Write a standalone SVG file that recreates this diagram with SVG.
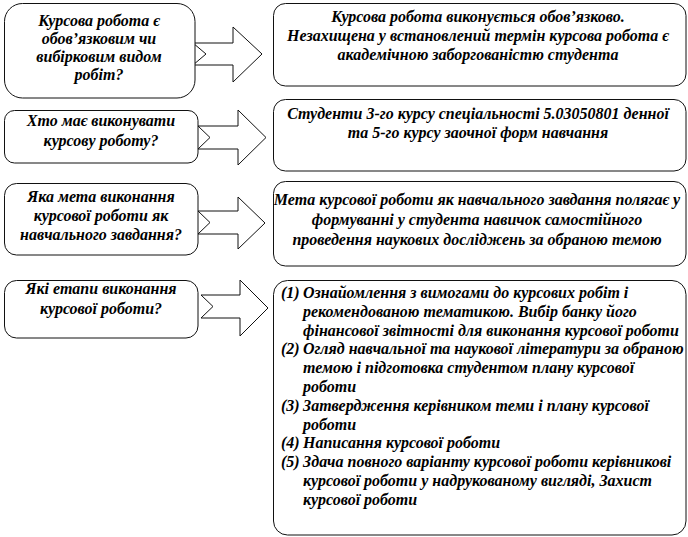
<svg xmlns="http://www.w3.org/2000/svg" width="688" height="537" viewBox="0 0 688 537">
<style>
.box{fill:#fff;stroke:#111;stroke-width:1}
.arr{fill:#fff;stroke:#111;stroke-width:1;stroke-linejoin:miter}
.c{text-anchor:middle}
</style>
<rect width="688" height="537" fill="#fff"/>
<g id="connectors">
<polygon class="arr" points="193,43 233,43 233,27 262,54 233,82 233,65 193,65 206,54"/>
<polygon class="arr" points="198,126 238,126 238,110 266,137.5 238,165 238,149 198,149 210,137.5"/>
<polygon class="arr" points="198,211 238,211 238,197 265,223 238,249 238,234 198,234 210,222.5"/>
<polygon class="arr" points="201,295 240,295 240,280 268,308 240,336 240,318 201,318 213,306.5"/>
</g>
<g font-size="16" font-weight="bold" font-style="italic" fill="#000">
<g id="q1">
<rect class="box" x="4.5" y="3.5" width="190.5" height="94.5" rx="18"/>
<text font-family="Liberation Serif" class="c" x="99" y="26">Курсова робота є</text>
<text font-family="Liberation Serif" class="c" x="99" y="44">обов’язковим чи</text>
<text font-family="Liberation Serif" class="c" x="99" y="62">вибірковим видом</text>
<text font-family="Liberation Serif" class="c" x="99" y="80">робіт?</text>
</g>
<g id="a1">
<rect class="box" x="273.5" y="3.5" width="412.5" height="82.5" rx="12"/>
<text font-family="Liberation Serif" class="c" x="478" y="22">Курсова робота виконується обов’язково.</text>
<text font-family="Liberation Serif" class="c" x="478" y="41">Незахищена у встановлений термін курсова робота є</text>
<text font-family="Liberation Serif" class="c" x="478" y="60">академічною заборгованістю студента</text>
</g>
<g id="q2">
<rect class="box" x="4.5" y="110.5" width="193.5" height="52.5" rx="10"/>
<text font-family="Liberation Serif" class="c" x="101" y="126">Хто має виконувати</text>
<text font-family="Liberation Serif" class="c" x="101" y="146">курсову роботу?</text>
</g>
<g id="a2">
<rect class="box" x="273.5" y="99.5" width="412.5" height="71.5" rx="12"/>
<text font-family="Liberation Serif" class="c" x="478" y="119">Студенти 3-го курсу  спеціальності 5.03050801 денної</text>
<text font-family="Liberation Serif" class="c" x="478" y="138">та 5-го курсу  заочної форм навчання</text>
</g>
<g id="q3">
<rect class="box" x="4.5" y="183.5" width="193.5" height="71.5" rx="12"/>
<text font-family="Liberation Serif" class="c" x="101" y="202">Яка мета виконання</text>
<text font-family="Liberation Serif" class="c" x="101" y="221">курсової роботи як</text>
<text font-family="Liberation Serif" class="c" x="101" y="240">навчального завдання?</text>
</g>
<g id="a3">
<rect class="box" x="273.5" y="181.5" width="412.5" height="84.5" rx="12"/>
<text font-family="Liberation Serif" class="c" x="477" y="205">Мета курсової роботи як навчального завдання полягає у</text>
<text font-family="Liberation Serif" class="c" x="477" y="225">формуванні у студента навичок самостійного</text>
<text font-family="Liberation Serif" class="c" x="477" y="245">проведення наукових досліджень за обраною темою</text>
</g>
<g id="q4">
<rect class="box" x="4.5" y="280.5" width="193.5" height="57.5" rx="12"/>
<text font-family="Liberation Serif" class="c" x="101" y="294">Які етапи виконання</text>
<text font-family="Liberation Serif" class="c" x="101" y="314">курсової роботи?</text>
</g>
<g id="a4">
<rect class="box" x="273.5" y="280.5" width="412.5" height="254.5" rx="14"/>
<text font-family="Liberation Serif" x="281" y="298">(1)</text>
<text font-family="Liberation Serif" x="303" y="298">Ознайомлення з вимогами до курсових робіт і</text>
<text font-family="Liberation Serif" x="303" y="316.8">рекомендованою тематикою. Вибір  банку його</text>
<text font-family="Liberation Serif" x="303" y="335.6">фінансової звітності для виконання  курсової роботи</text>
<text font-family="Liberation Serif" x="281" y="354.4">(2)</text>
<text font-family="Liberation Serif" x="303" y="354.4">Огляд навчальної та наукової літератури за обраною</text>
<text font-family="Liberation Serif" x="303" y="373.2">темою і підготовка студентом плану курсової</text>
<text font-family="Liberation Serif" x="303" y="392">роботи</text>
<text font-family="Liberation Serif" x="281" y="410.8">(3)</text>
<text font-family="Liberation Serif" x="303" y="410.8">Затвердження  керівником  теми і плану курсової</text>
<text font-family="Liberation Serif" x="303" y="429.6">роботи</text>
<text font-family="Liberation Serif" x="281" y="448.4">(4)</text>
<text font-family="Liberation Serif" x="303" y="448.4">Написання курсової роботи</text>
<text font-family="Liberation Serif" x="281" y="467.2">(5)</text>
<text font-family="Liberation Serif" x="303" y="467.2">Здача повного варіанту курсової роботи керівникові</text>
<text font-family="Liberation Serif" x="303" y="486">курсової роботи у надрукованому вигляді, Захист</text>
<text font-family="Liberation Serif" x="303" y="504.8">курсової роботи</text>
</g>
</g>
</svg>
